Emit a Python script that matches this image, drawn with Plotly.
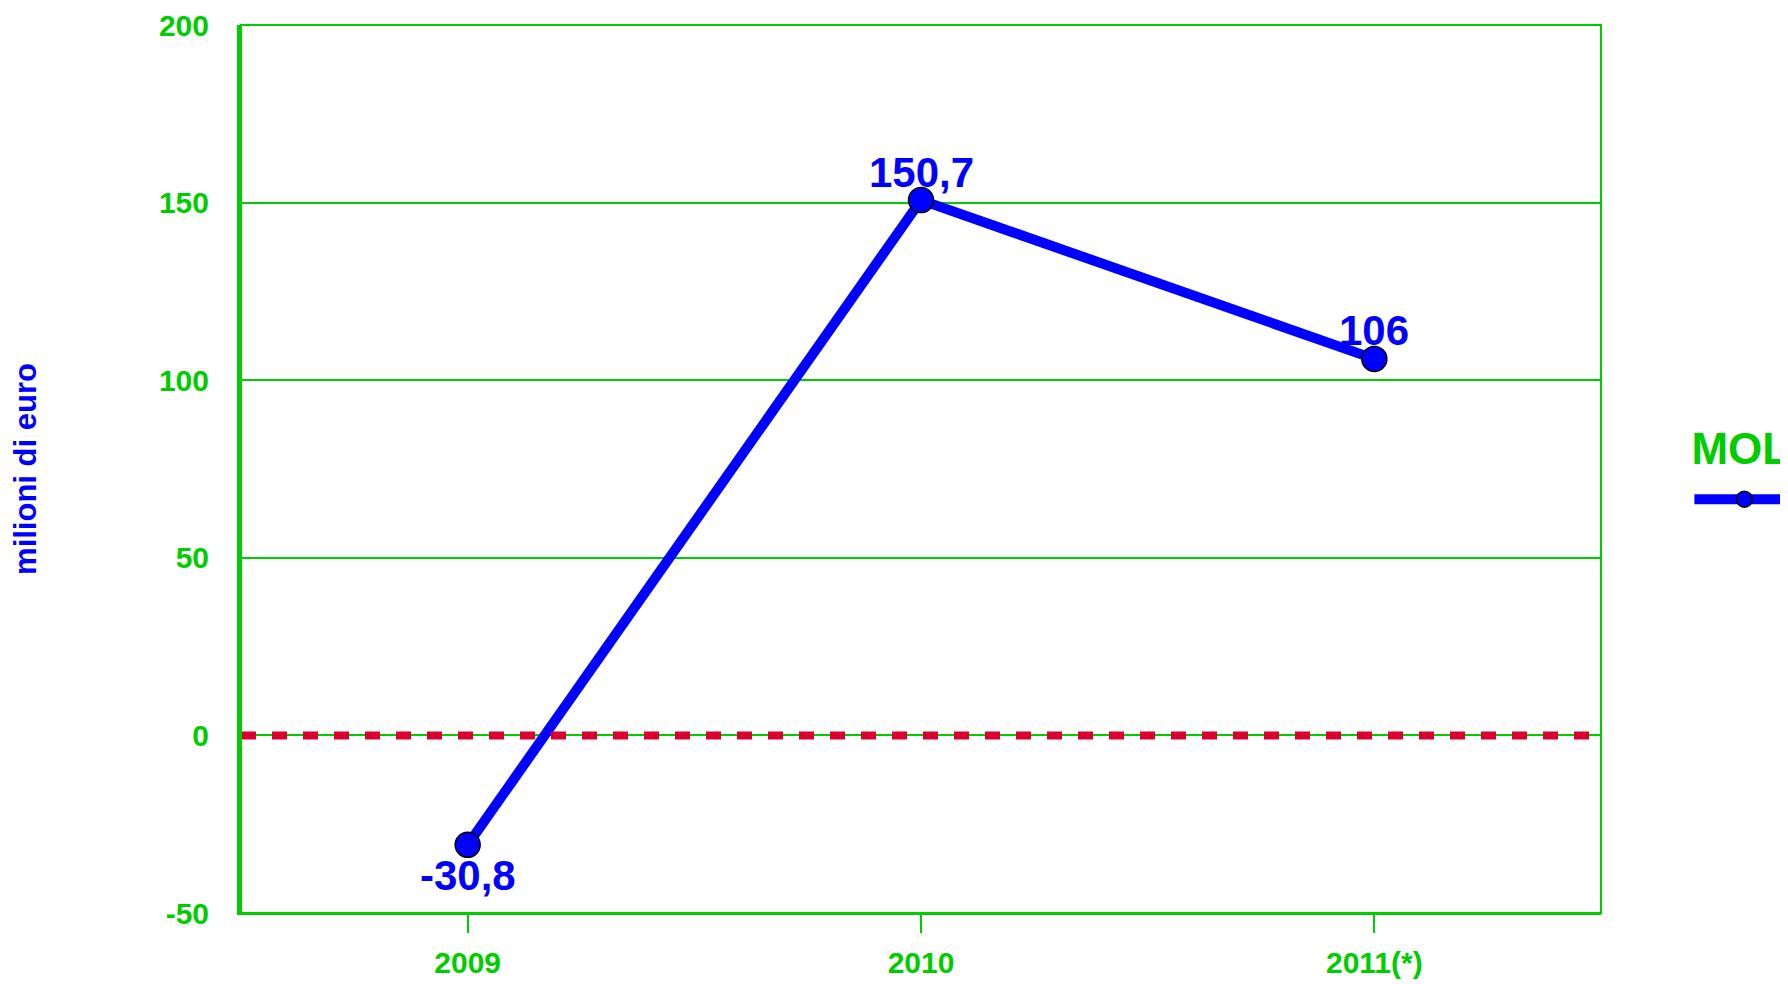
import plotly.graph_objects as go

categories = ["2009", "2010", "2011(*)"]
mol_values = [-30.8, 150.7, 106]
value_labels = ["-30,8", "150,7", "106"]
label_sides = ["below", "above", "above"]
y_ticks = [-50, 0, 50, 100, 150, 200]
y_tick_text = ["-50", "0", "50", "100", "150", "200"]

GREEN = "#00CC00"
BLUE = "#0000FF"
RED = "#DC0030"
FONT = "Liberation Sans"

fig = go.Figure()
fig.add_trace(go.Scatter(
    x=categories, y=mol_values, name=" ",
    mode="lines+markers",
    line=dict(color=BLUE, width=10),
    marker=dict(size=25, color=BLUE, line=dict(color="black", width=1.5)),
    cliponaxis=False,
))

# category axis: annotations addressed by category index
for i, (val, lab, side) in enumerate(zip(mol_values, value_labels, label_sides)):
    fig.add_annotation(
        x=i, y=val, text=lab, showarrow=False,
        xanchor="center", yanchor="middle",
        yshift=28 if side == "above" else -31,
        font=dict(family=FONT, size=42, color=BLUE, weight="bold"),
    )

fig.add_shape(type="line", xref="paper", x0=0, x1=1, yref="y", y0=0, y1=0,
              line=dict(color=RED, width=8, dash="15px,16px"))
fig.add_shape(type="rect", xref="paper", yref="paper", x0=0, x1=1, y0=0, y1=1,
              line=dict(color=GREEN, width=2), layer="above")

fig.update_layout(
    width=1780, height=976,
    margin=dict(l=233, r=187, t=17, b=71, autoexpand=False),
    plot_bgcolor="white", paper_bgcolor="white",
    showlegend=True,
    legend=dict(
        title=dict(text="MOL", font=dict(family=FONT, size=44, color=GREEN, weight="bold")),
        x=1.065, xanchor="left", y=0.57, yanchor="top",
        font=dict(family=FONT, size=44, color=GREEN),
        itemwidth=100,
        bgcolor="rgba(0,0,0,0)",
    ),
    xaxis=dict(
        type="category", range=[-0.5, 2.5], automargin=False,
        showgrid=False, showline=True, linecolor=GREEN, linewidth=2,
        ticks="outside", ticklen=18, tickwidth=2, tickcolor=GREEN,
        tickfont=dict(family=FONT, size=30, color=GREEN, weight="bold"),
        ticklabelstandoff=4,
    ),
    yaxis=dict(
        range=[-50, 200], tickvals=y_ticks, ticktext=y_tick_text, automargin=False,
        showgrid=True, gridcolor=GREEN, gridwidth=1.5, zeroline=False,
        showline=True, linecolor=GREEN, linewidth=4,
        ticks="", ticklabelstandoff=22,
        tickfont=dict(family=FONT, size=30, color=GREEN, weight="bold"),
        title=dict(text="milioni di euro", standoff=120,
                   font=dict(family=FONT, size=31, color=BLUE, weight="bold")),
    ),
)

fig.write_html("out.html")
